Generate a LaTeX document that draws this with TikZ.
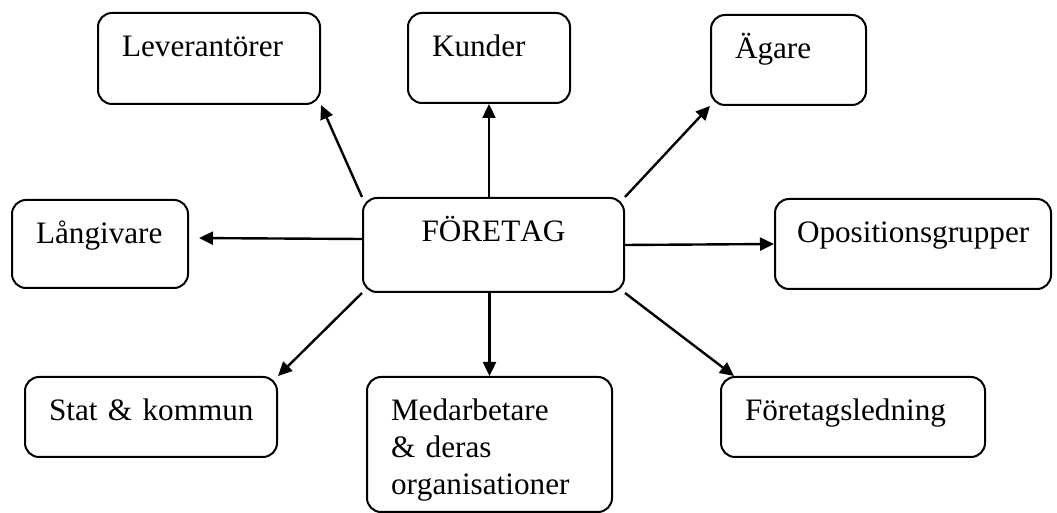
\documentclass[tikz,border=0pt]{standalone}
\usepackage{fontspec}
\setmainfont[Kerning=Off]{Liberation Serif}
\usetikzlibrary{arrows.meta}

\begin{document}
\begin{tikzpicture}
      [
        x=0.5pt, y=-0.5pt,
        font=\fontsize{15.6pt}{18.5pt}\selectfont,
        entity/.style={draw, line width=1pt, rounded corners=7pt, anchor=north west,
          inner xsep=12pt, inner ysep=0pt, align=left, text height=22pt},
        link/.style={line width=1.2pt, ->, >={Triangle[length=7pt,width=6.5pt]}}
      ]
      \useasboundingbox (0,0) rectangle (1057,513);
      % top row
      \node [entity, text width=87pt, text depth=23.5pt] (lev) at (97,12) {Leverantörer};
      \node [entity, text width=57pt, text depth=23pt] (kunder) at (407,12) {Kunder};
      \node [entity, text width=53.5pt, text depth=23pt] (agare) at (710,14) {Ägare};
      % middle row
      \node [entity, text width=64pt, text depth=22pt] (lang) at (11,199) {Långivare};
      \node [entity, text width=106.5pt, text depth=25pt, align=center] (foretag) at (362,197) {FÖRETAG};
      \node [entity, text width=116pt, inner xsep=11pt, text depth=23pt] (opos) at (774,198) {Opositionsgrupper};
      % bottom row
      \node [entity, text width=102pt, text depth=18pt] (stat) at (24,376) {\mbox{Stat \& kommun}};
      \node [entity, text width=98.5pt, text depth=45.5pt] (med) at (366,376) {Medarbetare\\\& deras\\organisationer};
      \node [entity, text width=108pt, text depth=18pt] (fled) at (720,376) {Företagsledning};
      % arrows out of the centre
      \draw [link] (foretag.north west) -- (lev.south east);
      \draw [link] (foretag.north -| kunder.south) -- (kunder.south);
      \draw [link] (foretag.north east) -- (agare.south west);
      \draw [link, shorten >=5pt] ([yshift=3pt]foretag.west) -- ([yshift=3pt]lang.east);
      \draw [link] (foretag.east) -- (opos.west);
      \draw [link] (foretag.south west) -- (stat.north east);
      \draw [link] (med.north |- foretag.south) -- (med.north);
      \draw [link] (foretag.south east) -- ([xshift=7pt]fled.north west);
\end{tikzpicture}
\end{document}
